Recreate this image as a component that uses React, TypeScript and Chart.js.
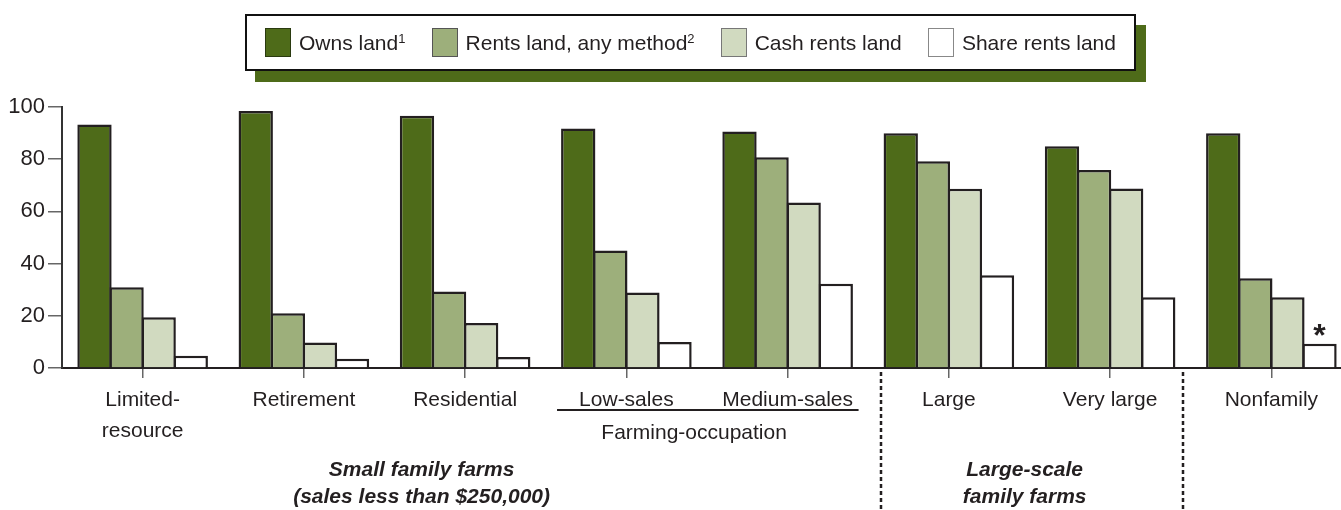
import React, { useEffect, useRef } from "react";
import { Chart, registerables } from "chart.js";

Chart.register(...registerables);

const categories: (string | string[])[] = [
  ["Limited-", "resource"],
  "Retirement",
  "Residential",
  "Low-sales",
  "Medium-sales",
  "Large",
  "Very large",
  "Nonfamily",
];
const seriesNames = ["Owns land", "Rents land, any method", "Cash rents land", "Share rents land"];
const seriesNotes = ["1", "2", "", ""];
const ownsLand = [93.3, 98.5, 96.6, 91.8, 90.6, 89.9, 85, 89.9];
const rentsLand = [30.9, 21, 29.3, 45, 80.7, 79.2, 75.9, 34.4];
const cashRents = [19.4, 9.8, 17.2, 28.9, 63.4, 68.7, 68.8, 27.1];
const shareRents = [4.7, 3.5, 4.2, 10, 32.3, 35.5, 27.1, 9.3];
const seriesColors = ["#4e6b19", "#9daf7b", "#d1dac0", "#ffffff"];
const swatchBorders = ["#2a3a10", "#555", "#777", "#888"];
const yMin = 0;
const yMax = 100;
const yStep = 20;
const subGroupLabel = "Farming-occupation";
const groupLabels = [
  ["Small family farms", "(sales less than $250,000)"],
  ["Large-scale", "family farms"],
];
const footnoteMark = "*";

const FONT = "'Liberation Sans', Arial, Helvetica, sans-serif";
const INK = "#231f20";

const annotPlugin = {
  id: "annot",
  afterDraw(chart: any) {
    const ctx = chart.ctx as CanvasRenderingContext2D;
    const xs = chart.scales.x;
    const b = chart.chartArea.bottom;
    ctx.save();
    ctx.strokeStyle = INK;
    ctx.lineWidth = 2;
    ctx.beginPath();
    ctx.moveTo(xs.getPixelForValue(2.57), b + 42);
    ctx.lineTo(xs.getPixelForValue(4.44), b + 42);
    ctx.stroke();
    ctx.setLineDash([4, 3]);
    ctx.lineWidth = 2.5;
    for (const v of [4.58, 6.45]) {
      const px = Math.round(xs.getPixelForValue(v));
      ctx.beginPath();
      ctx.moveTo(px, b + 4);
      ctx.lineTo(px, chart.height);
      ctx.stroke();
    }
    ctx.setLineDash([]);
    ctx.fillStyle = INK;
    ctx.textAlign = "center";
    ctx.textBaseline = "middle";
    ctx.font = `21px ${FONT}`;
    ctx.fillText(subGroupLabel, xs.getPixelForValue(3.42), b + 65);
    ctx.font = `italic bold 21px ${FONT}`;
    const gx = [1.73, 5.47];
    groupLabels.forEach((lines, i) => {
      lines.forEach((t, j) => {
        ctx.fillText(t, xs.getPixelForValue(gx[i]), b + 102 + j * 27);
      });
    });
    const meta = chart.getDatasetMeta(3);
    const el = meta.data[7];
    if (el) {
      ctx.font = `bold 32px ${FONT}`;
      ctx.textBaseline = "alphabetic";
      ctx.fillText(footnoteMark, el.x, el.y + 2);
    }
    ctx.restore();
  },
};

function ChartCanvas() {
  const ref = useRef<HTMLCanvasElement | null>(null);
  useEffect(() => {
    if (!ref.current) return;
    Chart.defaults.font.family = FONT;
    const values = [ownsLand, rentsLand, cashRents, shareRents];
    const chart = new Chart(ref.current, {
      type: "bar",
      data: {
        labels: categories,
        datasets: values.map((d, i) => ({
          label: seriesNames[i],
          data: d,
          backgroundColor: seriesColors[i],
          borderColor: INK,
          borderWidth: 2.5,
          categoryPercentage: 0.796,
          barPercentage: 1.07,
        })),
      },
      options: {
        animation: false,
        responsive: true,
        maintainAspectRatio: false,
        layout: { padding: { top: 107, right: 0, left: 0, bottom: 0 } },
        plugins: { legend: { display: false }, tooltip: { enabled: false } },
        scales: {
          x: {
            offset: true,
            afterFit(scale: any) {
              scale.height = 142;
            },
            grid: {
              offset: false,
              drawOnChartArea: false,
              drawTicks: true,
              tickLength: 10,
              color: "#666",
              lineWidth: 1.5,
            },
            border: { display: true, color: INK, width: 2 },
            ticks: {
              color: INK,
              font: { size: 21, lineHeight: 1.5 },
              padding: 6,
              maxRotation: 0,
              autoSkip: false,
            },
          },
          y: {
            min: yMin,
            max: yMax,
            afterFit(scale: any) {
              scale.width = 62;
            },
            grid: {
              drawOnChartArea: false,
              drawTicks: true,
              tickLength: 14,
              color: "#666",
              lineWidth: 1.5,
            },
            border: { display: true, color: "#333", width: 2 },
            ticks: {
              stepSize: yStep,
              color: INK,
              font: { size: 22 },
              padding: 3,
            },
          },
        },
      },
      plugins: [annotPlugin],
    });
    return () => chart.destroy();
  }, []);
  return <canvas ref={ref} />;
}

function Legend() {
  return (
    <div
      style={{
        position: "absolute",
        left: 245,
        top: 14,
        width: 891,
        height: 57,
        boxSizing: "border-box",
        border: "2px solid #111",
        background: "#fff",
        boxShadow: "10px 11px 0 #4e6b19",
        display: "flex",
        alignItems: "center",
        justifyContent: "space-between",
        padding: "0 18px",
        fontFamily: FONT,
        fontSize: 21,
        color: INK,
        zIndex: 2,
      }}
    >
      {seriesNames.map((name, i) => (
        <div key={name} style={{ display: "flex", alignItems: "center" }}>
          <div
            style={{
              width: 26,
              height: 29,
              boxSizing: "border-box",
              background: seriesColors[i],
              border: `1px solid ${swatchBorders[i]}`,
              marginRight: 8,
            }}
          />
          <span style={{ whiteSpace: "nowrap" }}>
            {name}
            {seriesNotes[i] ? (
              <sup style={{ fontSize: 13, verticalAlign: "7px", lineHeight: 0 }}>{seriesNotes[i]}</sup>
            ) : null}
          </span>
        </div>
      ))}
    </div>
  );
}

export default function App() {
  return (
    <div
      style={{
        position: "absolute",
        left: 0,
        top: 0,
        width: 1341,
        height: 510,
        overflow: "hidden",
        background: "#fff",
      }}
    >
      <div style={{ position: "absolute", left: 0, top: 0, width: 1352, height: 510 }}>
        <ChartCanvas />
      </div>
      <Legend />
    </div>
  );
}
